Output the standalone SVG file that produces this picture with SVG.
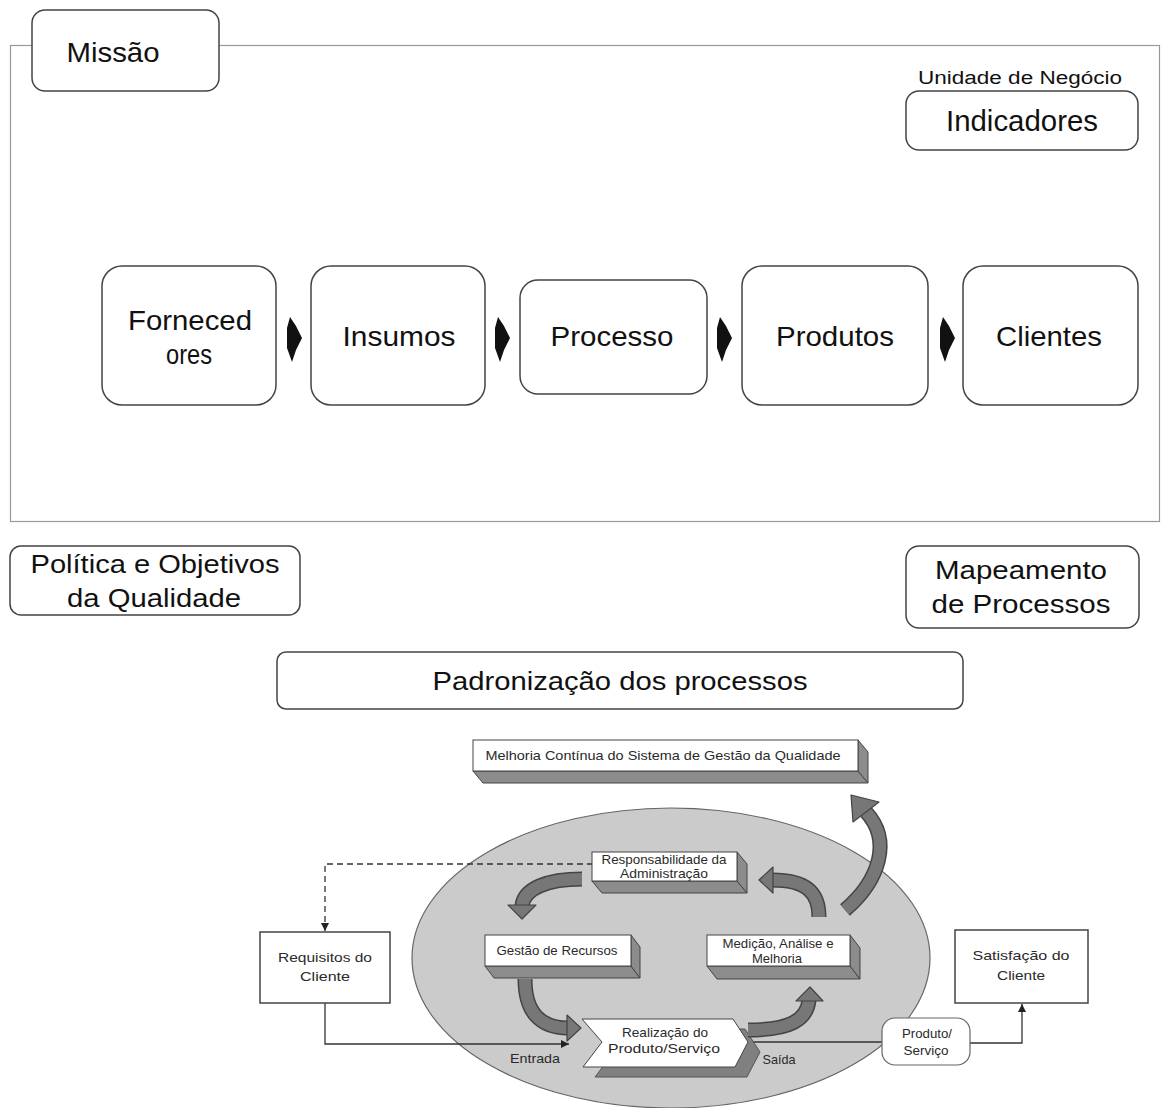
<svg xmlns="http://www.w3.org/2000/svg" width="1162" height="1108" viewBox="0 0 1162 1108">
<defs>
<style>
.t{font-family:"Liberation Sans",Arial,sans-serif;fill:#111;text-anchor:middle}
.s{font-family:"Liberation Sans",Arial,sans-serif;fill:#2a2a2a;text-anchor:middle;font-size:13px}
.box{fill:#fff;stroke:#444;stroke-width:1.5}
.face{fill:#fff;stroke:#444;stroke-width:1}
.side{fill:#8c8c8c;stroke:#444;stroke-width:1}
.bandO{fill:none;stroke:#444;stroke-width:15}
.band{fill:none;stroke:#777;stroke-width:12}
.head{fill:#777;stroke:#444;stroke-width:1.2;stroke-linejoin:round}
.ln{fill:none;stroke:#333;stroke-width:1.3}
.chev{fill:#111}
</style>
<marker id="ah" viewBox="0 0 10 10" refX="10" refY="5" markerWidth="8" markerHeight="8" markerUnits="userSpaceOnUse" orient="auto">
<path d="M0 0 L10 5 L0 10 Z" fill="#222"/>
</marker>
</defs>
<rect width="1162" height="1108" fill="#fff"/>

<!-- outer frame -->
<rect id="frame" x="10.5" y="45.5" width="1149" height="476" fill="none" stroke="#999" stroke-width="1.2"/>

<g id="missao">
<rect class="box" x="32" y="10" width="187" height="81" rx="13"/>
<text class="t" x="113" y="62" font-size="28" textLength="93" lengthAdjust="spacingAndGlyphs">Missão</text>
</g>

<g id="unidade">
<text class="t" x="1020" y="84" font-size="18" textLength="204" lengthAdjust="spacingAndGlyphs">Unidade de Negócio</text>
</g>

<g id="indicadores">
<rect class="box" x="906" y="91" width="232" height="59" rx="13"/>
<text class="t" x="1022" y="131" font-size="30" textLength="152" lengthAdjust="spacingAndGlyphs">Indicadores</text>
</g>

<g id="fornecedores">
<rect class="box" x="102" y="266" width="174" height="139" rx="20"/>
<text class="t" x="190" y="330" font-size="28" textLength="124" lengthAdjust="spacingAndGlyphs">Forneced</text>
<text class="t" x="189" y="364" font-size="28" textLength="46" lengthAdjust="spacingAndGlyphs">ores</text>
</g>

<g id="insumos">
<rect class="box" x="311" y="266" width="174" height="139" rx="20"/>
<text class="t" x="399" y="346" font-size="28" textLength="113" lengthAdjust="spacingAndGlyphs">Insumos</text>
</g>

<g id="processo">
<rect class="box" x="520" y="280" width="187" height="114" rx="18"/>
<text class="t" x="612" y="346" font-size="28" textLength="123" lengthAdjust="spacingAndGlyphs">Processo</text>
</g>

<g id="produtos">
<rect class="box" x="742" y="266" width="186" height="139" rx="20"/>
<text class="t" x="835" y="346" font-size="28" textLength="118" lengthAdjust="spacingAndGlyphs">Produtos</text>
</g>

<g id="clientes">
<rect class="box" x="963" y="266" width="175" height="139" rx="20"/>
<text class="t" x="1049" y="346" font-size="28" textLength="106" lengthAdjust="spacingAndGlyphs">Clientes</text>
</g>

<g id="politica">
<rect class="box" x="10" y="546" width="290" height="69" rx="11"/>
<text class="t" x="155" y="573" font-size="26" textLength="249" lengthAdjust="spacingAndGlyphs">Política e Objetivos</text>
<text class="t" x="154" y="607" font-size="26" textLength="174" lengthAdjust="spacingAndGlyphs">da Qualidade</text>
</g>

<g id="mapeamento">
<rect class="box" x="906" y="546" width="233" height="82" rx="13"/>
<text class="t" x="1021" y="579" font-size="26" textLength="172" lengthAdjust="spacingAndGlyphs">Mapeamento</text>
<text class="t" x="1021" y="613" font-size="26" textLength="179" lengthAdjust="spacingAndGlyphs">de Processos</text>
</g>

<g id="padronizacao">
<rect class="box" x="277" y="652" width="686" height="57" rx="9"/>
<text class="t" x="620" y="690" font-size="26" textLength="375" lengthAdjust="spacingAndGlyphs">Padronização dos processos</text>
</g>

<!-- bottom diagram -->
<g id="sistema">
<ellipse cx="671" cy="958" rx="259" ry="150" fill="#cbcbcb" stroke="#666" stroke-width="1.2"/>
</g>

<g id="connectors">
<!-- top flow chevrons -->
<polygon class="chev" points="290,317 296,326 302,338 296,350 292,362 287,348 287,328"/>
<polygon class="chev" points="498,317 504,326 510,338 504,350 500,362 495,348 495,328"/>
<polygon class="chev" points="720,317 726,326 732,338 726,350 722,362 717,348 717,328"/>
<polygon class="chev" points="943,317 949,326 955,338 949,350 945,362 940,348 940,328"/>
<!-- dashed feedback -->
<path class="ln" d="M593 864 H325 V931" stroke-dasharray="6 4" marker-end="url(#ah)"/>
<!-- entrada -->
<path class="ln" d="M325 1003 V1044 H569" marker-end="url(#ah)"/>
<!-- saida -->
<path class="ln" d="M748 1042 H882"/>
<path class="ln" d="M970 1043 H1022 V1004" marker-end="url(#ah)"/>
</g>

<g id="melhoria">
<polygon class="side" points="473,771 858,771 868,783 483,783"/>
<polygon class="side" points="858,740 868,752 868,783 858,771"/>
<rect class="face" x="473" y="740" width="385" height="31"/>
<text class="s" x="663" y="760" font-size="13" textLength="355" lengthAdjust="spacingAndGlyphs">Melhoria Contínua do Sistema de Gestão da Qualidade</text>
</g>

<g id="responsabilidade">
<polygon class="side" points="592,881 737,881 747,893 602,893"/>
<polygon class="side" points="737,852 747,864 747,893 737,881"/>
<rect class="face" x="592" y="852" width="145" height="29"/>
<text class="s" x="664" y="864" textLength="125" lengthAdjust="spacingAndGlyphs">Responsabilidade da</text>
<text class="s" x="664" y="878" textLength="88" lengthAdjust="spacingAndGlyphs">Administração</text>
</g>

<g id="gestao">
<polygon class="side" points="485,966 631,966 640,978 494,978"/>
<polygon class="side" points="631,935 640,947 640,978 631,966"/>
<rect class="face" x="485" y="935" width="146" height="31"/>
<text class="s" x="557" y="955" textLength="121" lengthAdjust="spacingAndGlyphs">Gestão de Recursos</text>
</g>

<g id="medicao">
<polygon class="side" points="707,966 850,966 860,979 717,979"/>
<polygon class="side" points="850,935 860,948 860,979 850,966"/>
<rect class="face" x="707" y="935" width="143" height="31"/>
<text class="s" x="778" y="948" textLength="111" lengthAdjust="spacingAndGlyphs">Medição, Análise e</text>
<text class="s" x="777" y="963" textLength="50" lengthAdjust="spacingAndGlyphs">Melhoria</text>
</g>

<g id="realizacao">
<polygon points="594,1029 745,1029 760,1052 747,1077 595,1077 614,1052" fill="#808080" stroke="#555" stroke-width="1"/>
<polygon points="582,1019 733,1019 748,1042 735,1067 583,1067 602,1042" fill="#fff" stroke="#444" stroke-width="1"/>
<text class="s" x="665" y="1037" textLength="86" lengthAdjust="spacingAndGlyphs">Realização do</text>
<text class="s" x="664" y="1053" textLength="112" lengthAdjust="spacingAndGlyphs">Produto/Serviço</text>
</g>

<g id="arrows">
<path class="bandO" d="M582 879 C548 879 524 888 522 906"/>
<path class="band" d="M582 879 C548 879 524 888 522 906"/>
<polygon class="head" points="508,905 536,905 522,919"/>

<path class="bandO" d="M525 979 C525 1012 540 1028 568 1028"/>
<path class="band" d="M525 979 C525 1012 540 1028 568 1028"/>
<polygon class="head" points="567,1015 581,1028 567,1041"/>

<path class="bandO" d="M748 1030 C790 1030 807 1020 809 1000"/>
<path class="band" d="M748 1030 C790 1030 807 1020 809 1000"/>
<polygon class="head" points="796,1001 810,987 823,1001"/>

<path class="bandO" d="M819 917 C819 892 806 880 772 880"/>
<path class="band" d="M819 917 C819 892 806 880 772 880"/>
<polygon class="head" points="773,867 759,880 773,893"/>

<path class="bandO" d="M845 910 C880 880 892 840 866 812" stroke-width="17"/>
<path class="band" d="M845 910 C880 880 892 840 866 812" stroke-width="14"/>
<polygon class="head" points="879,802 851,795 853,822"/>
</g>

<g id="requisitos">
<rect class="box" x="260" y="932" width="130" height="71"/>
<text class="s" x="325" y="962" font-size="14" textLength="94" lengthAdjust="spacingAndGlyphs">Requisitos do</text>
<text class="s" x="325" y="981" font-size="14" textLength="50" lengthAdjust="spacingAndGlyphs">Cliente</text>
</g>

<g id="satisfacao">
<rect class="box" x="955" y="930" width="133" height="73"/>
<text class="s" x="1021" y="960" font-size="14" textLength="97" lengthAdjust="spacingAndGlyphs">Satisfação do</text>
<text class="s" x="1021" y="980" font-size="14" textLength="48" lengthAdjust="spacingAndGlyphs">Cliente</text>
</g>

<g id="produto-servico">
<rect x="882" y="1018" width="88" height="47" rx="13" fill="#fff" stroke="#666" stroke-width="1.2"/>
<text class="s" x="927" y="1038" font-size="12" textLength="50" lengthAdjust="spacingAndGlyphs">Produto/</text>
<text class="s" x="926" y="1055" font-size="12" textLength="45" lengthAdjust="spacingAndGlyphs">Serviço</text>
</g>

<g id="labels">
<text class="s" x="535" y="1063" font-size="12" textLength="50" lengthAdjust="spacingAndGlyphs">Entrada</text>
<text class="s" x="779" y="1064" font-size="12" textLength="33" lengthAdjust="spacingAndGlyphs">Saída</text>
</g>
</svg>
